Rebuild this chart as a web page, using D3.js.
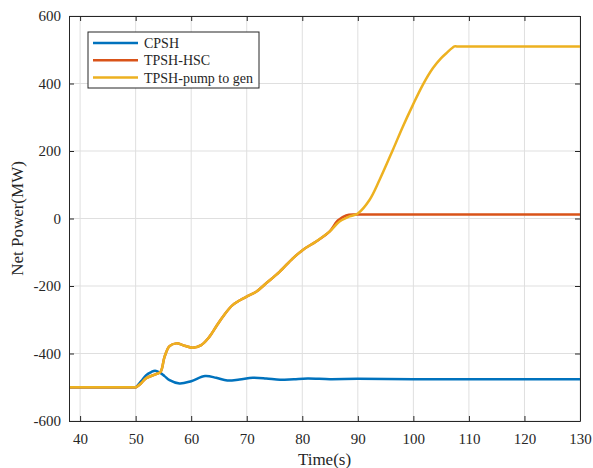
<!DOCTYPE html>
<html>
<head>
<meta charset="utf-8">
<script src="https://cdn.jsdelivr.net/npm/d3@7"></script>
<style>
  body { margin: 0; background: #fff; }
  text { font-family: "Liberation Serif", "Times New Roman", serif; fill: #262626; }
</style>
</head>
<body>
<div id="chart"></div>
<script>
// Series data
const cpshTime = [38, 42, 46, 49, 49.7, 50, 51, 51.9, 52.8, 53.5, 54.3, 55.2, 56.1, 57.9, 60, 62.5, 64.5, 66.5, 68.7, 71.1, 73.5, 76, 78.5, 81, 85, 90, 100, 115, 130];
const cpshPower = [-500, -500, -500, -500, -500, -500, -482, -464, -455, -451, -456, -467, -479, -489, -482, -467, -472, -480, -477, -472, -474, -478, -476, -474, -476, -475, -476, -476, -476];

const genTime = [38, 42, 46, 49, 49.7, 50, 51, 51.9, 53.7, 54.5, 55.2, 56.1, 57.3, 58.8, 60.3, 61.8, 63.3, 64.5, 65.7, 67.5, 69.9, 71.7, 73.5, 75.9, 78.3, 80.1, 82.5, 84.9, 86.7, 88.5, 90, 92.1, 93.9, 96.3, 98.1, 99.9, 101.7, 103.5, 105, 105.9, 107.4, 107.8, 108.5, 110, 120, 130];
const genPower = [-500, -500, -500, -500, -500, -500, -488, -473, -461, -454, -410, -378, -370, -377, -383, -375, -350, -320, -291, -256, -232, -217, -192, -158, -118, -93, -68, -39, -9, 6, 15, 55, 114, 203, 272, 336, 396, 445, 475, 489, 510, 510, 510, 510, 510, 510];

const hscTime = [38, 42, 46, 49, 49.7, 50, 51, 51.9, 53.7, 54.5, 55.2, 56.1, 57.3, 58.8, 60.3, 61.8, 63.3, 64.5, 65.7, 67.5, 69.9, 71.7, 73.5, 75.9, 78.3, 80.1, 82.5, 84.9, 86.4, 87.9, 89.5, 91, 93, 100, 115, 130];
const hscPower = [-500, -500, -500, -500, -500, -500, -488, -473, -461, -454, -410, -378, -370, -377, -383, -375, -350, -320, -291, -256, -232, -217, -192, -158, -118, -93, -68, -39, -6, 9, 12, 12, 12, 12, 12, 12];

const seriesNames = ["CPSH", "TPSH-HSC", "TPSH-pump to gen"];
const seriesColors = ["#0072BD", "#D95319", "#EDB120"];
const xTicks = [40, 50, 60, 70, 80, 90, 100, 110, 120, 130];
const yTicks = [-600, -400, -200, 0, 200, 400, 600];

const series = [
  { name: seriesNames[0], color: seriesColors[0], pts: cpshTime.map((t, i) => [t, cpshPower[i]]) },
  { name: seriesNames[1], color: seriesColors[1], pts: hscTime.map((t, i) => [t, hscPower[i]]) },
  { name: seriesNames[2], color: seriesColors[2], pts: genTime.map((t, i) => [t, genPower[i]]) }
];

const margin = { top: 16, right: 13, bottom: 47, left: 69 };
const W = 593, H = 468;
const width = W - margin.left - margin.right;
const height = H - margin.top - margin.bottom;

const svg = d3.select("#chart").append("svg")
  .attr("width", W).attr("height", H)
  .append("g")
  .attr("transform", `translate(${margin.left},${margin.top})`);

const x = d3.scaleLinear().domain([38, 130]).range([0, width]);
const y = d3.scaleLinear().domain([-600, 600]).range([height, 0]);

// Grid
svg.append("g").selectAll("line").data(xTicks).enter().append("line")
  .attr("x1", d => x(d)).attr("x2", d => x(d))
  .attr("y1", 0).attr("y2", height)
  .attr("stroke", "#dfdfdf").attr("stroke-width", 1);
svg.append("g").selectAll("line").data(yTicks).enter().append("line")
  .attr("x1", 0).attr("x2", width)
  .attr("y1", d => y(d)).attr("y2", d => y(d))
  .attr("stroke", "#dfdfdf").attr("stroke-width", 1);

// Lines
const line = d3.line()
  .x(d => x(d[0])).y(d => y(d[1]))
  .curve(d3.curveCatmullRom.alpha(0.5));

const plot = svg.append("g");
series.forEach(s => {
  plot.append("path")
    .datum(s.pts)
    .attr("fill", "none")
    .attr("stroke", s.color)
    .attr("stroke-width", 2.5)
    .attr("d", line);
});

// Axes (MATLAB style: ticks inward, box)
const fmt = d => d3.format("")(d).replace("−", "-");
svg.append("g")
  .attr("transform", `translate(0,${height})`)
  .call(d3.axisBottom(x).tickValues(xTicks).tickSizeInner(-5).tickSizeOuter(0).tickPadding(12).tickFormat(fmt));
svg.append("g")
  .call(d3.axisLeft(y).tickValues(yTicks).tickSizeInner(-5).tickSizeOuter(0).tickPadding(8).tickFormat(fmt));
svg.append("g")
  .call(d3.axisTop(x).tickValues(xTicks).tickSizeInner(-5).tickSizeOuter(0).tickFormat(""));
svg.append("g")
  .attr("transform", `translate(${width},0)`)
  .call(d3.axisRight(y).tickValues(yTicks).tickSizeInner(-5).tickSizeOuter(0).tickFormat(""));

svg.selectAll(".domain").attr("stroke", "#262626");
svg.selectAll(".tick line").attr("stroke", "#262626");
svg.selectAll(".tick text").attr("font-size", 15).attr("fill", "#262626")
  .attr("font-family", "Liberation Serif, Times New Roman, serif");

// Axis labels
svg.append("text")
  .attr("x", width / 2).attr("y", height + 44)
  .attr("text-anchor", "middle").attr("font-size", 17)
  .text("Time(s)");
svg.append("text")
  .attr("transform", "rotate(-90)")
  .attr("x", -height / 2).attr("y", -46)
  .attr("text-anchor", "middle").attr("font-size", 17)
  .text("Net Power(MW)");

// Legend
const legend = svg.append("g").attr("transform", `translate(${88 - margin.left},${32 - margin.top})`);
legend.append("rect")
  .attr("width", 171).attr("height", 56)
  .attr("fill", "#fff").attr("stroke", "#262626").attr("stroke-width", 1);
series.forEach((s, i) => {
  const cy = 11 + i * 17.3;
  legend.append("line")
    .attr("x1", 5).attr("x2", 50).attr("y1", cy).attr("y2", cy)
    .attr("stroke", s.color).attr("stroke-width", 2.5);
  legend.append("text")
    .attr("x", 56).attr("y", cy).attr("dy", "0.35em")
    .attr("font-size", 14)
    .text(s.name);
});
</script>
</body>
</html>
